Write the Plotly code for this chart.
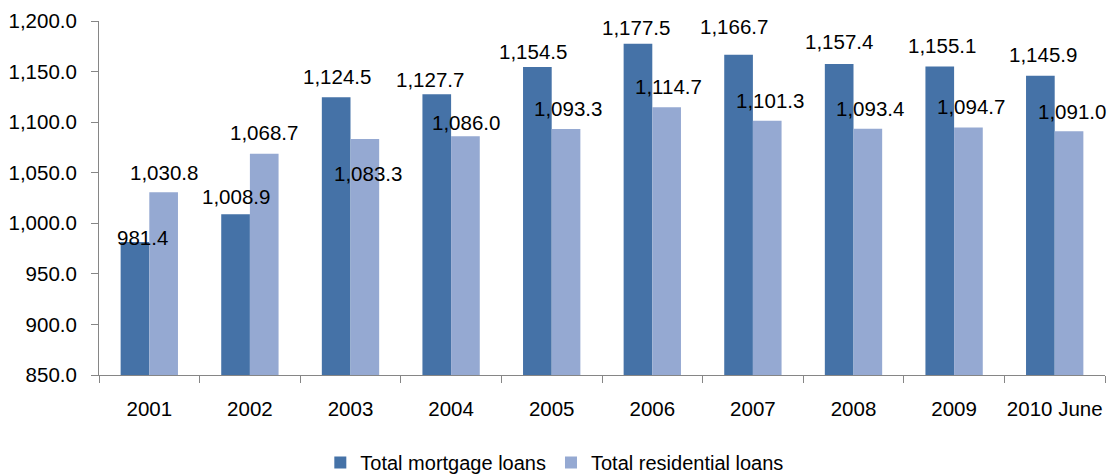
import plotly.graph_objects as go

# Loan volumes by year
years = ["2001", "2002", "2003", "2004", "2005", "2006", "2007", "2008", "2009", "2010 June"]
mortgage = [981.4, 1008.9, 1124.5, 1127.7, 1154.5, 1177.5, 1166.7, 1157.4, 1155.1, 1145.9]
residential = [1030.8, 1068.7, 1083.3, 1086.0, 1093.3, 1114.7, 1101.3, 1093.4, 1094.7, 1091.0]

y_ticks = [850, 900, 950, 1000, 1050, 1100, 1150, 1200]

# Hand-placed data label offsets (pixels) for each series
mort_dx = [-7, -14, -14, -21, -19, -16, -19, -15, -12, -12]
mort_dy = [5, 18, 21, 15, 16, 16, 28, 23, 21, 21]
res_dx = [15, 14, 17, 15, 16, 16, 17, 16, 17, 17]
res_dy = [20, 21, -34, 14, 20, 21, 20, 20, 21, 20]

DARK = "#4572A7"
LIGHT = "#95A9D2"
FONT = "Liberation Sans, Arial, sans-serif"

fig = go.Figure()
fig.add_trace(go.Bar(x=years, y=mortgage, name="Total mortgage loans",
                     marker=dict(color=DARK, line=dict(width=0))))
fig.add_trace(go.Bar(x=years, y=residential, name="Total residential loans",
                     marker=dict(color=LIGHT, line=dict(width=0))))


def fmt(v):
    return f"{v:,.1f}"


annotations = []
for series, dxs, dys in ((mortgage, mort_dx, mort_dy), (residential, res_dx, res_dy)):
    for i, (v, dx, dy) in enumerate(zip(series, dxs, dys)):
        annotations.append(dict(x=i, y=v, xref="x", yref="y", text=fmt(v),
                                showarrow=False, xshift=dx, yshift=dy,
                                xanchor="center", yanchor="middle",
                                font=dict(size=20.5, color="#000000", family=FONT)))

fig.update_layout(
    width=1108, height=476,
    margin=dict(l=99, r=3, t=21, b=101, autoexpand=False),
    paper_bgcolor="white", plot_bgcolor="white",
    barmode="group", bargap=0.43, bargroupgap=0,
    font=dict(family=FONT, size=20, color="#000000"),
    showlegend=True,
    legend=dict(orientation="h", x=0.22, xanchor="left", y=-0.192, yanchor="top",
                font=dict(size=20, family=FONT, color="#000000"),
                itemclick=False, traceorder="normal"),
    annotations=annotations,
)
fig.update_xaxes(type="category", range=[-0.5, len(years) - 0.5],
                 categoryorder="array", categoryarray=years,
                 showline=True, linecolor="#868686", linewidth=1,
                 ticks="outside", tickson="boundaries", ticklen=7, tickcolor="#868686",
                 showgrid=False, zeroline=False, ticklabelstandoff=15, tickangle=0,
                 tickfont=dict(size=20.5, family=FONT, color="#000000"))
fig.update_yaxes(range=[850, 1200], tickvals=y_ticks,
                 ticktext=[f"{t:,.1f}" for t in y_ticks],
                 showline=True, linecolor="#868686", linewidth=1,
                 ticks="outside", ticklen=7, tickcolor="#868686",
                 showgrid=False, zeroline=False, ticklabelstandoff=10,
                 tickfont=dict(size=20.5, family=FONT, color="#000000"))

fig.write_html("out.html")
